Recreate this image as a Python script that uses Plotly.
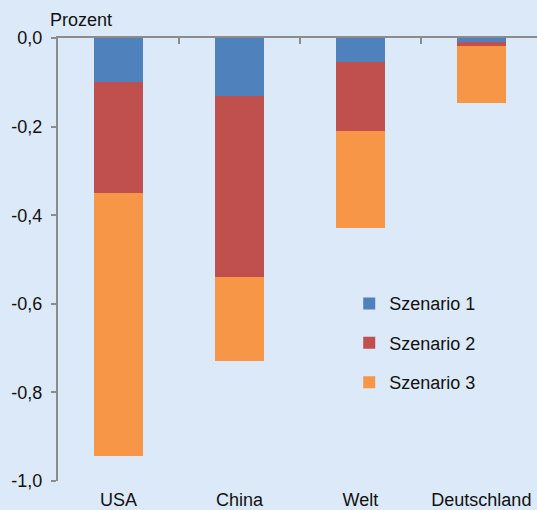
import plotly.graph_objects as go

categories = ["USA", "China", "Welt", "Deutschland"]
szenario1 = [-0.10, -0.13, -0.055, -0.008]
szenario2 = [-0.25, -0.41, -0.155, -0.010]
szenario3 = [-0.593, -0.19, -0.22, -0.128]
series_names = ["Szenario 1", "Szenario 2", "Szenario 3"]
colors = ["#4f81bd", "#c0504d", "#f79646"]
y_tickvals = [0.0, -0.2, -0.4, -0.6, -0.8, -1.0]
y_ticktext = ["0,0", "-0,2", "-0,4", "-0,6", "-0,8", "-1,0"]

fig = go.Figure()
for name, vals, col in zip(series_names, [szenario1, szenario2, szenario3], colors):
    fig.add_trace(go.Bar(x=categories, y=vals, name=name, marker=dict(color=col, line=dict(width=0)),
                         width=0.4, legendgroup=name))

# invisible trace for the top (zero-line) axis
fig.add_trace(go.Scatter(x=[0], y=[0], xaxis="x2", mode="markers", marker=dict(opacity=0),
                         showlegend=False, hoverinfo="skip"))

bg = "#dce9f8"
fig.update_layout(
    width=537, height=510,
    paper_bgcolor=bg, plot_bgcolor=bg,
    margin=dict(l=58, r=0, t=38, b=29, autoexpand=False),
    barmode="stack",
    font=dict(family="Arial, Liberation Sans, sans-serif", size=18, color="#111111"),
    xaxis=dict(range=[-0.5, 3.46], showline=False, showgrid=False, zeroline=False,
               ticks="", ticklabelstandoff=6, tickfont=dict(size=18), automargin=False),
    xaxis2=dict(overlaying="x", side="top", range=[-0.5, 3.46], showline=True,
                linecolor="#8c8c8c", linewidth=2, showgrid=False, zeroline=False,
                tickvals=[0.5, 1.5, 2.5], ticks="inside", ticklen=6, tickwidth=2,
                tickcolor="#8c8c8c", showticklabels=False, automargin=False),
    yaxis=dict(range=[-1.0, 0.0], tickvals=y_tickvals, ticktext=y_ticktext,
               showline=True, linecolor="#8c8c8c", linewidth=2, showgrid=False,
               zeroline=False, ticks="outside", ticklen=5, tickwidth=2, tickcolor="#8c8c8c",
               ticklabelstandoff=5, tickfont=dict(size=18), automargin=False),
    legend=dict(x=0.608, y=0.442, xanchor="left", yanchor="top", bgcolor="rgba(0,0,0,0)",
                traceorder="grouped", tracegroupgap=13, font=dict(size=18),
                itemwidth=30),
    showlegend=True,
)
fig.add_annotation(text="Prozent", xref="paper", yref="paper", x=-0.021, y=1.0,
                   xanchor="left", yanchor="middle", yshift=18, showarrow=False,
                   font=dict(size=18))

fig.write_html("out.html", config={"displayModeBar": False},
               post_script="document.body.style.margin='0';")
